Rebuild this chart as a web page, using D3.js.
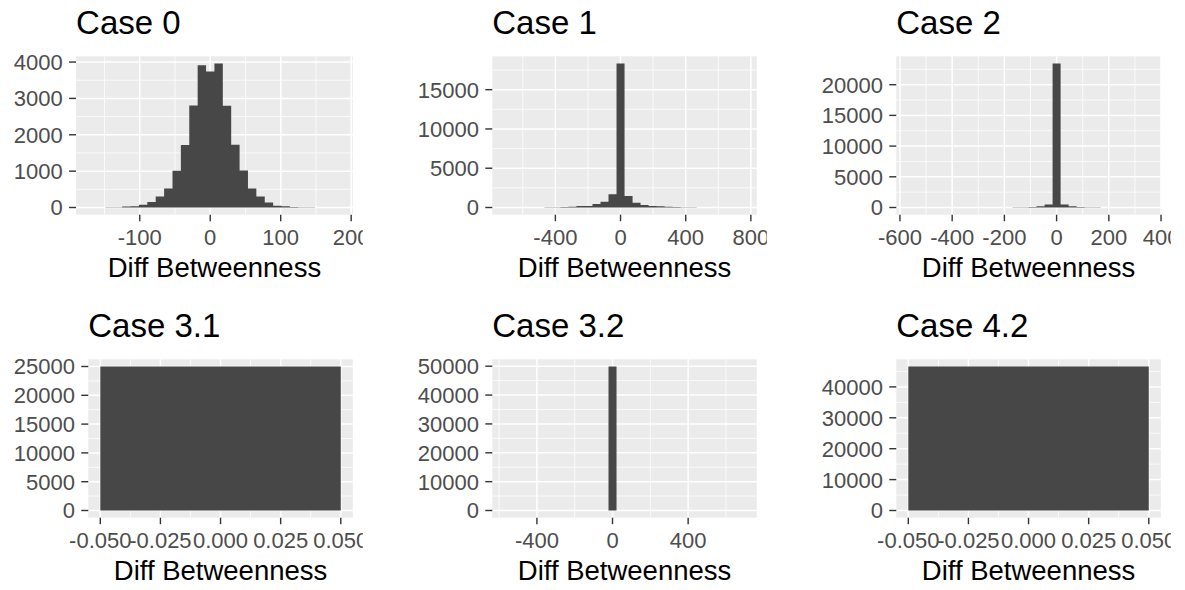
<!DOCTYPE html>
<html lang="en">
<head>
<meta charset="UTF-8">
<title>Diff Betweenness histograms</title>
<script src="https://d3js.org/d3.v7.min.js"></script>
<style>
  body { margin: 0; background: #fff; }
  text { font-family: "Liberation Sans", Arial, Helvetica, sans-serif; }
</style>
</head>
<body>
<svg id="chart" width="1185" height="590"></svg>
<script>
// ---- data ----
const caseNames = ["Case 0", "Case 1", "Case 2", "Case 3.1", "Case 3.2", "Case 4.2"];

// histogram bin width and index of the first bin (bin centre = index * width)
const binWidths = [11.9, 49.2, 30.7, 0.1, 42.4, 0.1];
const firstBin = [-14, -14, -18, 0, -13, 0];

const case0Counts = [2, 3, 4, 8, 30, 35, 75, 150, 300, 520, 1010, 1720, 2805, 3910, 3740,
                     3960, 2800, 1725, 1015, 525, 300, 140, 50, 35, 12, 8, 4, 3, 2, 2];
const case1Counts = [2, 3, 5, 8, 12, 20, 35, 60, 90, 180, 200, 450, 740, 1690, 18330,
                     1470, 620, 320, 200, 170, 90, 60, 30, 20, 12, 8, 5, 3, 2, 2];
const case2Counts = [1, 1, 1, 2, 2, 3, 3, 5, 6, 8, 10, 15, 20, 30, 45,
                     70, 210, 490, 23450, 480, 200, 65, 40, 25, 15, 10, 6, 4, 2, 1];
const case31Counts = [25000];
const case32Counts = [1, 0, 0, 0, 0, 0, 0, 0, 0, 0, 0, 0, 0, 49900, 0,
                      0, 0, 0, 0, 0, 0, 0, 0, 0, 0, 0, 0, 0, 0, 1];
const case42Counts = [46600];

const xTickValues = [
  [-100, 0, 100, 200],
  [-400, 0, 400, 800],
  [-600, -400, -200, 0, 200, 400],
  [-0.05, -0.025, 0, 0.025, 0.05],
  [-400, 0, 400],
  [-0.05, -0.025, 0, 0.025, 0.05]
];
const xTickLabels = [
  ["-100", "0", "100", "200"],
  ["-400", "0", "400", "800"],
  ["-600", "-400", "-200", "0", "200", "400"],
  ["-0.050", "-0.025", "0.000", "0.025", "0.050"],
  ["-400", "0", "400"],
  ["-0.050", "-0.025", "0.000", "0.025", "0.050"]
];
const yTickValues = [
  [0, 1000, 2000, 3000, 4000],
  [0, 5000, 10000, 15000],
  [0, 5000, 10000, 15000, 20000],
  [0, 5000, 10000, 15000, 20000, 25000],
  [0, 10000, 20000, 30000, 40000, 50000],
  [0, 10000, 20000, 30000, 40000]
];
const xTitle = "Diff Betweenness";

const allCounts = [case0Counts, case1Counts, case2Counts, case31Counts, case32Counts, case42Counts];

// ---- layout ----
const cellW = 404, cellH = 303;
const barColor = "#474747";
const svg = d3.select("#chart");

// ggplot style minor breaks: midpoints between majors, one step beyond each end
function minorBreaks(ticks, domain) {
  const step = ticks[1] - ticks[0];
  const ext = [ticks[0] - step, ...ticks, ticks[ticks.length - 1] + step];
  const out = [];
  for (let k = 0; k < ext.length - 1; k++) {
    const m = (ext[k] + ext[k + 1]) / 2;
    if (m > domain[0] && m < domain[1]) out.push(m);
  }
  return out;
}

caseNames.forEach((name, i) => {
  const col = i % 3, row = Math.floor(i / 3);
  const cx = col * cellW, cy = row * cellH;
  const w = binWidths[i];

  const bins = allCounts[i].map((n, j) => {
    const mid = (firstBin[i] + j) * w;
    return { x0: mid - w / 2, x1: mid + w / 2, n: n };
  });
  const lo = bins[0].x0, hi = bins[bins.length - 1].x1;
  const pad = (hi - lo) * 0.05;
  const maxN = d3.max(bins, d => d.n);

  const g = svg.append("g");

  // width of the widest y label decides where the panel starts
  const probe = g.append("text").style("font-size", "22px");
  let labW = 0;
  yTickValues[i].forEach(v => {
    probe.text(String(v));
    labW = Math.max(labW, probe.node().getComputedTextLength());
  });
  probe.remove();

  const left = cx + 13.8 + labW + 13.3;
  const right = cx + 352.8;
  const top = cy + 56.3, bottom = cy + 214.7;

  const x = d3.scaleLinear().domain([lo - pad, hi + pad]).range([left, right]);
  const y = d3.scaleLinear().domain([-maxN * 0.05, maxN * 1.05]).range([bottom, top]);

  // panel background
  g.append("rect")
    .attr("x", left).attr("y", top)
    .attr("width", right - left).attr("height", bottom - top)
    .attr("fill", "#EBEBEB");

  // grid
  const xMinor = minorBreaks(xTickValues[i], x.domain());
  const yMinor = minorBreaks(yTickValues[i], y.domain());

  g.selectAll("line.xminor").data(xMinor).enter().append("line")
    .attr("x1", d => x(d)).attr("x2", d => x(d))
    .attr("y1", top).attr("y2", bottom)
    .attr("stroke", "#fff").attr("stroke-width", 0.75);
  g.selectAll("line.yminor").data(yMinor).enter().append("line")
    .attr("x1", left).attr("x2", right)
    .attr("y1", d => y(d)).attr("y2", d => y(d))
    .attr("stroke", "#fff").attr("stroke-width", 0.75);
  g.selectAll("line.xmajor").data(xTickValues[i]).enter().append("line")
    .attr("x1", d => x(d)).attr("x2", d => x(d))
    .attr("y1", top).attr("y2", bottom)
    .attr("stroke", "#fff").attr("stroke-width", 1.5);
  g.selectAll("line.ymajor").data(yTickValues[i]).enter().append("line")
    .attr("x1", left).attr("x2", right)
    .attr("y1", d => y(d)).attr("y2", d => y(d))
    .attr("stroke", "#fff").attr("stroke-width", 1.5);

  // bars: one filled step outline so adjacent bins show no seams
  const stepPts = [[lo, 0]];
  bins.forEach(d => { stepPts.push([d.x0, d.n], [d.x1, d.n]); });
  stepPts.push([hi, 0]);
  g.append("path")
    .datum(stepPts)
    .attr("d", d3.line().x(p => x(p[0])).y(p => y(p[1])))
    .attr("fill", barColor);

  // y axis
  g.selectAll("line.ytick").data(yTickValues[i]).enter().append("line")
    .attr("x1", left - 7).attr("x2", left)
    .attr("y1", d => y(d)).attr("y2", d => y(d))
    .attr("stroke", "#333").attr("stroke-width", 1.4);
  g.selectAll("text.ylab").data(yTickValues[i]).enter().append("text")
    .attr("x", left - 13.3)
    .attr("y", d => y(d))
    .attr("dy", "0.36em")
    .attr("text-anchor", "end")
    .style("font-size", "22px")
    .attr("fill", "#4D4D4D")
    .text(d => String(d));

  // x axis, clipped at the right edge of the cell
  const clipId = "clip" + i;
  svg.append("clipPath").attr("id", clipId)
    .append("rect").attr("x", cx).attr("y", 0)
    .attr("width", right + 10 - cx).attr("height", 590);
  const xa = g.append("g").attr("clip-path", "url(#" + clipId + ")");
  xa.selectAll("line").data(xTickValues[i]).enter().append("line")
    .attr("x1", d => x(d)).attr("x2", d => x(d))
    .attr("y1", bottom).attr("y2", bottom + 6.5)
    .attr("stroke", "#333").attr("stroke-width", 1.4);
  xa.selectAll("text").data(xTickValues[i]).enter().append("text")
    .attr("x", d => x(d))
    .attr("y", cy + 245)
    .attr("text-anchor", "middle")
    .style("font-size", "22px")
    .attr("fill", "#4D4D4D")
    .text((d, k) => xTickLabels[i][k]);

  // titles
  g.append("text")
    .attr("x", left).attr("y", cy + 34.3)
    .style("font-size", "33px")
    .attr("fill", "#000")
    .text(name);
  g.append("text")
    .attr("x", (left + right) / 2).attr("y", cy + 277.3)
    .attr("text-anchor", "middle")
    .style("font-size", "27.5px")
    .attr("fill", "#000")
    .text(xTitle);
});
</script>
</body>
</html>
